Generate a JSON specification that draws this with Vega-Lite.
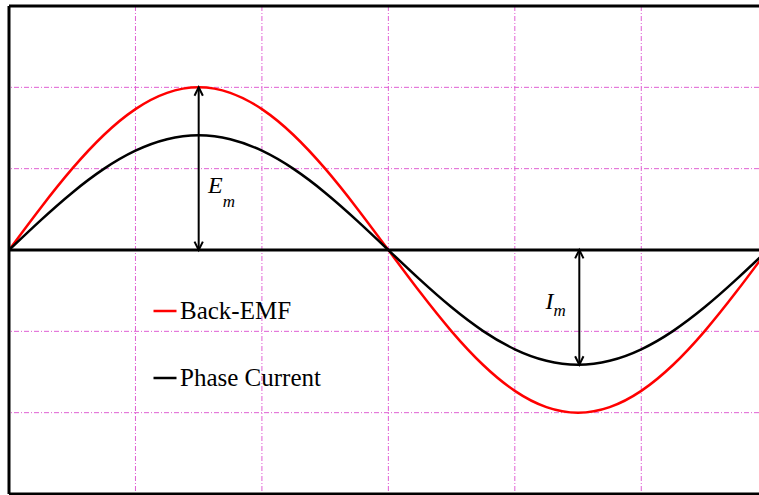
{
  "$schema": "https://vega.github.io/schema/vega-lite/v6.json",
  "width": 750,
  "height": 488,
  "autosize": {"type": "none"},
  "padding": {"left": 9, "top": 6, "right": 0, "bottom": 1},
  "background": "white",
  "config": {
    "view": {"stroke": null}
  },
  "datasets": {
    "waves": [
      {"x": 0, "v": 0, "s": "Back-EMF"},
      {"x": 0.25, "v": 0.5176, "s": "Back-EMF"},
      {"x": 0.5, "v": 1, "s": "Back-EMF"},
      {"x": 0.75, "v": 1.4142, "s": "Back-EMF"},
      {"x": 1, "v": 1.7321, "s": "Back-EMF"},
      {"x": 1.25, "v": 1.9319, "s": "Back-EMF"},
      {"x": 1.5, "v": 2, "s": "Back-EMF"},
      {"x": 1.75, "v": 1.9319, "s": "Back-EMF"},
      {"x": 2, "v": 1.7321, "s": "Back-EMF"},
      {"x": 2.25, "v": 1.4142, "s": "Back-EMF"},
      {"x": 2.5, "v": 1, "s": "Back-EMF"},
      {"x": 2.75, "v": 0.5176, "s": "Back-EMF"},
      {"x": 3, "v": 0, "s": "Back-EMF"},
      {"x": 3.25, "v": -0.5176, "s": "Back-EMF"},
      {"x": 3.5, "v": -1, "s": "Back-EMF"},
      {"x": 3.75, "v": -1.4142, "s": "Back-EMF"},
      {"x": 4, "v": -1.7321, "s": "Back-EMF"},
      {"x": 4.25, "v": -1.9319, "s": "Back-EMF"},
      {"x": 4.5, "v": -2, "s": "Back-EMF"},
      {"x": 4.75, "v": -1.9319, "s": "Back-EMF"},
      {"x": 5, "v": -1.7321, "s": "Back-EMF"},
      {"x": 5.25, "v": -1.4142, "s": "Back-EMF"},
      {"x": 5.5, "v": -1, "s": "Back-EMF"},
      {"x": 5.75, "v": -0.5176, "s": "Back-EMF"},
      {"x": 6, "v": 0, "s": "Back-EMF"},
      {"x": 0, "v": 0, "s": "Phase Current"},
      {"x": 0.25, "v": 0.3649, "s": "Phase Current"},
      {"x": 0.5, "v": 0.705, "s": "Phase Current"},
      {"x": 0.75, "v": 0.997, "s": "Phase Current"},
      {"x": 1, "v": 1.2211, "s": "Phase Current"},
      {"x": 1.25, "v": 1.362, "s": "Phase Current"},
      {"x": 1.5, "v": 1.41, "s": "Phase Current"},
      {"x": 1.75, "v": 1.362, "s": "Phase Current"},
      {"x": 2, "v": 1.2211, "s": "Phase Current"},
      {"x": 2.25, "v": 0.997, "s": "Phase Current"},
      {"x": 2.5, "v": 0.705, "s": "Phase Current"},
      {"x": 2.75, "v": 0.3649, "s": "Phase Current"},
      {"x": 3, "v": 0, "s": "Phase Current"},
      {"x": 3.25, "v": -0.3649, "s": "Phase Current"},
      {"x": 3.5, "v": -0.705, "s": "Phase Current"},
      {"x": 3.75, "v": -0.997, "s": "Phase Current"},
      {"x": 4, "v": -1.2211, "s": "Phase Current"},
      {"x": 4.25, "v": -1.362, "s": "Phase Current"},
      {"x": 4.5, "v": -1.41, "s": "Phase Current"},
      {"x": 4.75, "v": -1.362, "s": "Phase Current"},
      {"x": 5, "v": -1.2211, "s": "Phase Current"},
      {"x": 5.25, "v": -0.997, "s": "Phase Current"},
      {"x": 5.5, "v": -0.705, "s": "Phase Current"},
      {"x": 5.75, "v": -0.3649, "s": "Phase Current"},
      {"x": 6, "v": 0, "s": "Phase Current"}
    ],
    "gridX": [{"at": 1}, {"at": 2}, {"at": 3}, {"at": 4}, {"at": 5}],
    "gridY": [{"at": -2}, {"at": -1}, {"at": 1}, {"at": 2}],
    "frameY": [{"at": -3}, {"at": 0}, {"at": 3}],
    "frameX": [{"at": 0}],
    "arrows": [
      {"x": 1.5, "from": 0, "to": 2},
      {"x": 4.51, "from": 0, "to": -1.41}
    ],
    "heads": [
      {"x": 1.5, "y": 2, "dir": "up"},
      {"x": 1.5, "y": 0, "dir": "down"},
      {"x": 4.51, "y": 0, "dir": "up"},
      {"x": 4.51, "y": -1.41, "dir": "down"}
    ],
    "symbols": [
      {"x": 1.574, "y": 0.706, "t": "E"},
      {"x": 4.243, "y": -0.731, "t": "I"}
    ],
    "subscripts": [
      {"x": 1.69, "y": 0.525, "t": "m"},
      {"x": 4.305, "y": -0.815, "t": "m"}
    ]
  },
  "encoding": {
    "x": {"type": "quantitative", "scale": {"domain": [0, 5.931], "nice": false, "zero": false}, "axis": null},
    "y": {"type": "quantitative", "scale": {"domain": [-3, 3], "nice": false, "zero": false}, "axis": null}
  },
  "layer": [
    {
      "data": {"name": "gridX"},
      "mark": {"type": "rule", "color": "#e060d4", "strokeWidth": 1, "strokeDash": [5, 2, 1, 2]},
      "encoding": {"x": {"field": "at", "type": "quantitative"}}
    },
    {
      "data": {"name": "gridY"},
      "mark": {"type": "rule", "color": "#e060d4", "strokeWidth": 1, "strokeDash": [5, 2, 1, 2]},
      "encoding": {"y": {"field": "at", "type": "quantitative"}}
    },
    {
      "data": {"name": "waves"},
      "mark": {"type": "line", "strokeWidth": 2.5, "interpolate": "natural", "clip": true},
      "encoding": {
        "x": {"field": "x", "type": "quantitative"},
        "y": {"field": "v", "type": "quantitative"},
        "color": {
          "field": "s", "type": "nominal",
          "scale": {"domain": ["Back-EMF", "Phase Current"], "range": ["#ff0000", "#000000"]},
          "legend": {
            "orient": "none",
            "legendX": 143,
            "legendY": 292,
            "title": null,
            "padding": 0,
            "symbolType": "stroke",
            "symbolSize": 529,
            "symbolStrokeWidth": 2.5,
            "labelFont": "Liberation Serif",
            "labelFontSize": 25,
            "labelColor": "black",
            "labelOffset": 2,
            "rowPadding": 41
          }
        }
      }
    },
    {
      "data": {"name": "frameY"},
      "mark": {"type": "rule", "color": "black", "strokeWidth": 3},
      "encoding": {"y": {"field": "at", "type": "quantitative"}}
    },
    {
      "data": {"name": "frameX"},
      "mark": {"type": "rule", "color": "black", "strokeWidth": 3},
      "encoding": {"x": {"field": "at", "type": "quantitative"}}
    },
    {
      "data": {"name": "arrows"},
      "mark": {"type": "rule", "color": "black", "strokeWidth": 2},
      "encoding": {
        "x": {"field": "x", "type": "quantitative"},
        "y": {"field": "from", "type": "quantitative"},
        "y2": {"field": "to"}
      }
    },
    {
      "data": {"name": "heads"},
      "mark": {"type": "point", "filled": false, "color": "black", "strokeWidth": 2, "size": 70, "opacity": 1},
      "encoding": {
        "x": {"field": "x", "type": "quantitative"},
        "y": {"field": "y", "type": "quantitative"},
        "shape": {
          "field": "dir", "type": "nominal",
          "scale": {"domain": ["up", "down"], "range": ["M-1,2L0,0L1,2", "M-1,-2L0,0L1,-2"]},
          "legend": null
        }
      }
    },
    {
      "data": {"name": "symbols"},
      "mark": {"type": "text", "font": "Liberation Serif", "fontStyle": "italic", "fontSize": 24, "align": "left", "baseline": "alphabetic", "color": "black"},
      "encoding": {
        "x": {"field": "x", "type": "quantitative"},
        "y": {"field": "y", "type": "quantitative"},
        "text": {"field": "t"}
      }
    },
    {
      "data": {"name": "subscripts"},
      "mark": {"type": "text", "font": "Liberation Serif", "fontStyle": "italic", "fontSize": 17, "align": "left", "baseline": "alphabetic", "color": "black"},
      "encoding": {
        "x": {"field": "x", "type": "quantitative"},
        "y": {"field": "y", "type": "quantitative"},
        "text": {"field": "t"}
      }
    }
  ]
}
